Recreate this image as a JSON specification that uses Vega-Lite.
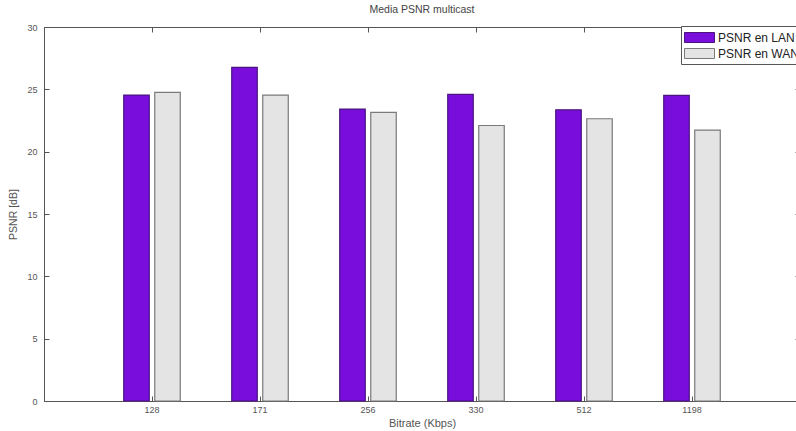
{
  "$schema": "https://vega.github.io/schema/vega-lite/v6.json",
  "width": 756,
  "height": 374,
  "autosize": {"type": "none"},
  "padding": {"left": 44, "top": 27, "right": 0, "bottom": 30},
  "background": "white",
  "config": {
    "view": {"stroke": "#555", "strokeWidth": 1},
    "font": "Liberation Sans",
    "axis": {
      "domainColor": "#555", "tickColor": "#555", "labelColor": "#555", "titleColor": "#555",
      "labelFont": "Liberation Sans", "titleFont": "Liberation Sans", "titleFontWeight": "normal",
      "grid": false, "tickWidth": 1, "domainWidth": 1
    }
  },
  "title": {"text": "Media PSNR multicast", "fontSize": 10.5, "fontWeight": "normal", "font": "Liberation Sans", "color": "#444", "offset": 8},
  "data": {
    "values": [
      {"bitrate": "128", "serie": "PSNR en LAN", "psnr": 24.54},
      {"bitrate": "128", "serie": "PSNR en WAN", "psnr": 24.75},
      {"bitrate": "171", "serie": "PSNR en LAN", "psnr": 26.76},
      {"bitrate": "171", "serie": "PSNR en WAN", "psnr": 24.54},
      {"bitrate": "256", "serie": "PSNR en LAN", "psnr": 23.42},
      {"bitrate": "256", "serie": "PSNR en WAN", "psnr": 23.15},
      {"bitrate": "330", "serie": "PSNR en LAN", "psnr": 24.59},
      {"bitrate": "330", "serie": "PSNR en WAN", "psnr": 22.1},
      {"bitrate": "512", "serie": "PSNR en LAN", "psnr": 23.36},
      {"bitrate": "512", "serie": "PSNR en WAN", "psnr": 22.64},
      {"bitrate": "1198", "serie": "PSNR en LAN", "psnr": 24.51},
      {"bitrate": "1198", "serie": "PSNR en WAN", "psnr": 21.73}
    ]
  },
  "layer": [
    {
      "mark": {"type": "bar", "strokeWidth": 1.2},
      "encoding": {
        "x": {
          "field": "bitrate", "type": "nominal", "sort": null,
          "scale": {"paddingInner": 0, "paddingOuter": 0.5},
          "axis": {"orient": "bottom", "title": "Bitrate (Kbps)", "labelAngle": 0, "labelFontSize": 9, "titleFontSize": 11, "tickSize": -5, "labelPadding": 9, "titlePadding": 3}
        },
        "xOffset": {
          "field": "serie", "type": "nominal", "sort": ["PSNR en LAN", "PSNR en WAN"],
          "scale": {"paddingInner": 0.177, "paddingOuter": 0.83}
        },
        "y": {
          "field": "psnr", "type": "quantitative",
          "scale": {"domain": [0, 30], "nice": false},
          "axis": {"orient": "left", "title": "PSNR [dB]", "values": [0, 5, 10, 15, 20, 25, 30], "labelFontSize": 9, "titleFontSize": 10.5, "tickSize": -5, "labelPadding": 12, "titlePadding": 8}
        },
        "fill": {
          "field": "serie", "type": "nominal",
          "scale": {"domain": ["PSNR en LAN", "PSNR en WAN"], "range": ["#780ddc", "#e4e4e4"]},
          "legend": {
            "orient": "none", "legendX": 637, "legendY": -1, "title": null,
            "symbolType": "M-1,-0.625H2.75V0.625H-1Z", "symbolSize": 256,
            "symbolStrokeColor": "#555", "symbolStrokeWidth": 1,
            "labelFontSize": 12, "labelColor": "#222", "labelFont": "Liberation Sans",
            "rowPadding": 0, "padding": 3, "strokeColor": "#555", "fillColor": "white",
            "labelOffset": 17, "symbolOffset": 0
          }
        },
        "stroke": {
          "field": "serie", "type": "nominal",
          "scale": {"domain": ["PSNR en LAN", "PSNR en WAN"], "range": ["#4b1580", "#7a7a7a"]},
          "legend": null
        }
      }
    },
    {
      "mark": {"type": "bar", "opacity": 0},
      "encoding": {
        "x": {
          "field": "bitrate", "type": "nominal", "sort": null,
          "axis": {"orient": "top", "title": null, "labels": false, "tickSize": -5, "domain": false}
        },
        "xOffset": {"field": "serie", "type": "nominal"},
        "y": {
          "field": "psnr", "type": "quantitative",
          "axis": {"orient": "right", "title": null, "labels": false, "values": [0, 5, 10, 15, 20, 25, 30], "tickSize": -5, "domain": false}
        }
      }
    }
  ],
  "resolve": {"axis": {"x": "independent", "y": "independent"}}
}
